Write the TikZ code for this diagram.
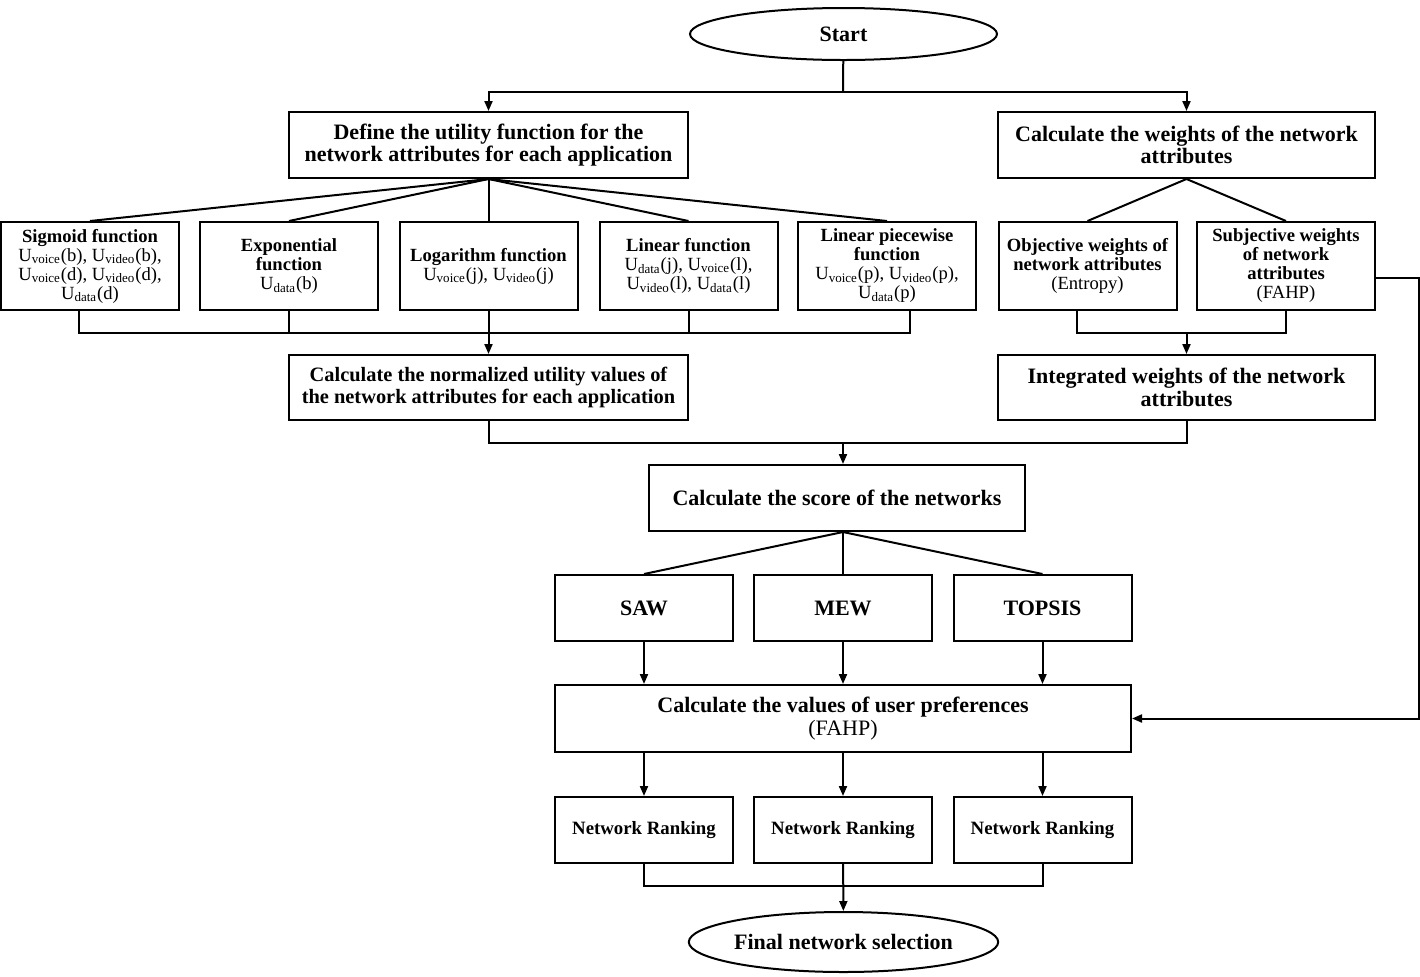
\documentclass[tikz,border=0pt]{standalone}
\usepackage{fontspec}
\setmainfont{Liberation Serif}
\usetikzlibrary{shapes.geometric,arrows.meta}
\newcommand{\util}[2]{U\textsubscript{#1}(#2)}
\tikzset{
  box/.style={draw,line width=1pt,inner sep=1pt,align=center,
    font=\bfseries\fontsize{11}{11.2}\selectfont},
  widebox/.style={box,minimum width=199.5pt,minimum height=33pt},
  sidebox/.style={box,minimum width=188.5pt,minimum height=33pt},
  funbox/.style={box,minimum width=89pt,minimum height=44pt,
    font=\bfseries\fontsize{9.3}{9.5}\selectfont},
  methbox/.style={box,minimum width=89pt,minimum height=33pt},
  rankbox/.style={methbox,font=\bfseries\fontsize{9.4}{10}\selectfont},
  term/.style={draw,ellipse,line width=1pt,inner sep=0pt,minimum width=153.5pt,
    font=\bfseries\fontsize{11}{11.2}\selectfont},
  link/.style={line width=1pt},
  flow/.style={link,-{Triangle[length=5pt,width=4pt]}},
}
\begin{document}
\begin{tikzpicture}[x=0.5pt,y=-0.5pt]
\useasboundingbox (0,0) rectangle (1420,976);

% top
\node[term,minimum height=26pt] (start) at (843.5,34) {Start};
\node[widebox] (define) at (488.5,145) {Define the utility function for the\\network attributes for each application};
\node[sidebox] (weights) at (1186.5,145) {Calculate the weights of the network\\attributes};

% utility functions
\node[funbox] (sigmoid) at (90,266) {Sigmoid function\\\mdseries\util{voice}{b}, \util{video}{b},\\\mdseries\util{voice}{d}, \util{video}{d},\\\mdseries\util{data}{d}};
\node[funbox] (expo) at (289,266) {Exponential\\function\\\mdseries\util{data}{b}};
\node[funbox] (loga) at (488.5,266) {Logarithm function\\\mdseries\util{voice}{j}, \util{video}{j}};
\node[funbox] (linear) at (688.5,266) {Linear function\\\mdseries\util{data}{j}, \util{voice}{l},\\\mdseries\util{video}{l}, \util{data}{l}};
\node[funbox] (piecewise) at (887,266) {Linear piecewise\\function\\\mdseries\util{voice}{p}, \util{video}{p},\\\mdseries\util{data}{p}};

% weights
\node[funbox] (objective) at (1087.5,266) {Objective weights of\\network attributes\\\mdseries(Entropy)};
\node[funbox] (subjective) at (1286,266) {Subjective weights\\of network\\attributes\\\mdseries(FAHP)};

\node[widebox,minimum height=32.5pt,font=\bfseries\fontsize{10.2}{11.2}\selectfont] (normalized) at (488.5,387.5) {Calculate the normalized utility values of\\the network attributes for each application};
\node[sidebox,minimum height=32.5pt] (integrated) at (1186.5,387.5) {Integrated weights of the network\\attributes};

% scoring
\node[box,minimum width=188pt,minimum height=33pt] (score) at (837,498) {Calculate the score of the networks};
\node[methbox] (saw) at (644,608) {SAW};
\node[methbox] (mew) at (843,608) {MEW};
\node[methbox] (topsis) at (1042.5,608) {TOPSIS};
\node[box,minimum width=288pt,minimum height=33.5pt] (pref) at (843,718.5) {Calculate the values of user preferences\\\mdseries(FAHP)};
\node[rankbox] (rankA) at (644,830) {Network Ranking};
\node[rankbox] (rankB) at (843,830) {Network Ranking};
\node[rankbox] (rankC) at (1042.5,830) {Network Ranking};
\node[term,minimum height=30pt] (final) at (843.5,942) {Final network selection};

\coordinate (split) at (843,92);
\coordinate (busL) at (488.5,332);
\coordinate (busR) at (1186.5,332);
\coordinate (merge) at (843,443);

\draw[link] (start) -- (split);
\draw[flow] (split) -| (define);
\draw[flow] (split) -| (weights);
\foreach \n in {sigmoid,expo,loga,linear,piecewise}
  \draw[link] (define.south) -- (\n.north);
\foreach \n in {objective,subjective}
  \draw[link] (weights.south) -- (\n.north);

\draw[link] ([xshift=-5.5pt]sigmoid.south) -- ++(0,22) -| ([xshift=11.5pt]piecewise.south);
\foreach \n in {expo,loga,linear}
  \draw[link] (\n.south) -- (\n.south |- busL);
\draw[flow] (busL) -- (normalized);
\draw[link] ([xshift=-5.5pt]objective.south) -- ++(0,22) -| (subjective.south);
\draw[flow] (busR) -- (integrated);

\draw[link] (normalized.south) -- (normalized.south |- merge) -| (integrated.south);
\draw[flow] (merge) -- (merge |- score.north);
\foreach \n in {saw,mew,topsis}
  \draw[link] (score.south -| mew) -- (\n.north);
\foreach \n/\r in {saw/rankA,mew/rankB,topsis/rankC}{
  \draw[flow] (\n) -- (\n |- pref.north);
  \draw[flow] (pref.south -| \n) -- (\r);
}
\draw[link] (rankA.south) -- ++(0,22) -| (rankC.south);
\draw[flow] (rankB) -- (final);

% feedback of the subjective weights
\draw[flow] ([yshift=-6pt]subjective.east) -- ++(43,0) |- (pref.east);
\end{tikzpicture}
\end{document}
